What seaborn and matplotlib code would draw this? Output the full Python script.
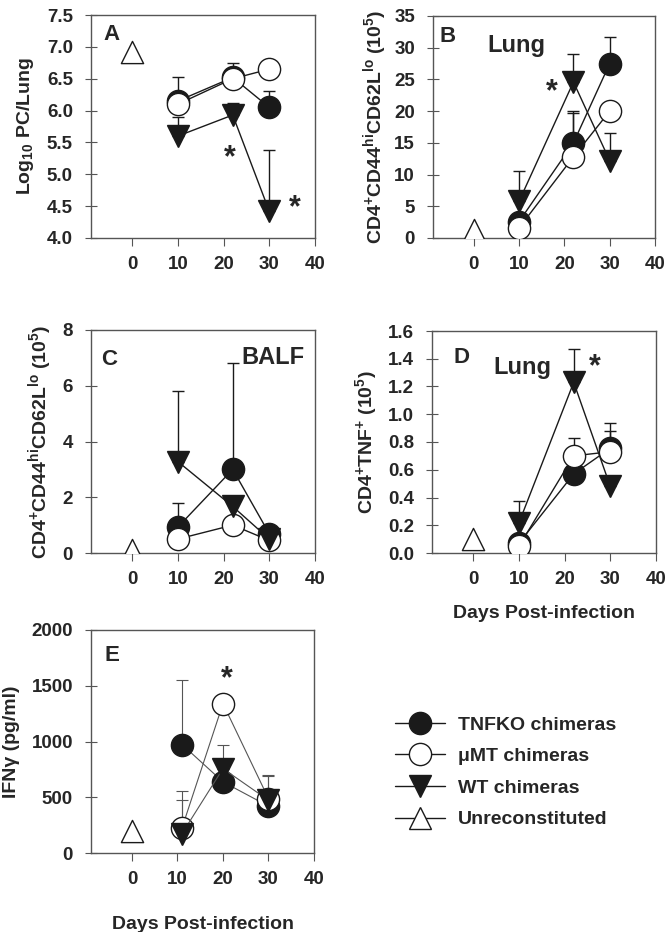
import numpy as np
import seaborn as sns
import matplotlib.pyplot as plt
from matplotlib.lines import Line2D

# days post-infection
days = [10, 22, 30]
days_e = [11, 20, 30]
day0 = 0

# A - Log10 PC/Lung
a_tnfko = [6.15, 6.52, 6.05]
a_tnfko_err = [0.37, 0.23, 0.25]
a_mumt = [6.10, 6.50, 6.65]
a_mumt_err = [0, 0, 0]
a_wt = [5.60, 5.93, 4.42]
a_wt_err = [0.30, 0.19, 0.96]
a_unrec = 6.92

# B - lung CD4+CD44hiCD62Llo
b_tnfko = [2.6, 15.0, 27.5]
b_tnfko_err = [0, 5.0, 4.2]
b_mumt = [1.6, 12.8, 20.0]
b_mumt_err = [0, 6.9, 0]
b_wt = [5.8, 24.6, 12.2]
b_wt_err = [4.8, 4.4, 4.3]
b_unrec = 1.2

# C - BALF CD4+CD44hiCD62Llo
c_tnfko = [0.93, 3.0, 0.69]
c_tnfko_err = [0.88, 3.8, 0]
c_mumt = [0.5, 1.0, 0.45]
c_mumt_err = [0, 0, 0]
c_wt = [3.28, 1.67, 0.5]
c_wt_err = [2.52, 0, 0]
c_unrec = 0.1

# D - lung CD4+TNF+
d_tnfko = [0.07, 0.57, 0.755]
d_tnfko_err = [0, 0, 0.185]
d_mumt = [0.048, 0.70, 0.73]
d_mumt_err = [0, 0.13, 0.15]
d_wt = [0.216, 1.23, 0.48]
d_wt_err = [0.16, 0.24, 0.05]
d_unrec = 0.1

# E - IFNg
e_tnfko = [973, 638, 420]
e_tnfko_err = [578, 0, 0]
e_mumt = [225, 1340, 488]
e_mumt_err = [332, 0, 210]
e_wt = [174, 757, 473]
e_wt_err = [305, 215, 217]
e_unrec = 195

labels = ["TNFKO chimeras", "\u03bcMT chimeras", "WT chimeras", "Unreconstituted"]

sns.set_style("ticks")
plt.rcParams['font.family'] = ['Liberation Sans', 'DejaVu Sans']
plt.rcParams['font.weight'] = 'bold'
plt.rcParams['mathtext.fontset'] = 'custom'
plt.rcParams['mathtext.rm'] = 'Liberation Sans:bold'
plt.rcParams['mathtext.bf'] = 'Liberation Sans:bold'
plt.rcParams['mathtext.default'] = 'bf'

W, H = 666, 932
fig = plt.figure(figsize=(W / 100, H / 100), dpi=100)


def box(l, t, r, b):
    return [l / W, 1 - b / H, (r - l) / W, (b - t) / H]


ink = "#1a1a1a"
ms = 16
tick_fs = 13.5
lab_fs = 14


def draw(ax, x, tn, tn_e, mu, mu_e, wt, wt_e, unrec, lw=1.0, lc=ink):
    for y, e, fc, mk in [(tn, tn_e, ink, "o"), (mu, mu_e, "white", "o"), (wt, wt_e, ink, "v")]:
        xs = [xi for xi, ei in zip(x, e) if ei > 0]
        ys = [yi for yi, ei in zip(y, e) if ei > 0]
        es = [ei for ei in e if ei > 0]
        if xs:
            ax.errorbar(xs, ys, yerr=[np.zeros(len(es)), es], fmt="none",
                        ecolor=lc, elinewidth=lw, capsize=4.5, capthick=lw, zorder=2)
        sns.lineplot(x=x, y=y, ax=ax, color=lc, linewidth=lw, marker=mk,
                     markersize=ms, markerfacecolor=fc, markeredgecolor=ink,
                     markeredgewidth=1.0, zorder=3)
    sns.scatterplot(x=[day0], y=[unrec], ax=ax, marker="^", s=ms ** 2,
                    facecolor="white", edgecolor=ink, linewidth=1.0, zorder=3)
    ax.set_xlim(-9, 40)
    ax.set_xticks([0, 10, 20, 30, 40])
    for s in ax.spines.values():
        s.set_color("#555555")
        s.set_linewidth(1.0)
    ax.tick_params(axis="x", length=6, pad=7, labelsize=tick_fs, color="#555555")
    ax.tick_params(axis="y", direction="inout", length=8, pad=9, labelsize=tick_fs,
                   color="#555555")
    ax.set_xlabel("")


star = dict(fontsize=22, fontweight="bold", ha="center", va="center")
tag = dict(fontsize=16, fontweight="bold", ha="center", va="center")
site = dict(fontsize=17, fontweight="bold", ha="center", va="center")
cd44 = "CD4$^{+}$CD44$^{hi}$CD62L$^{lo}$ (10$^{5}$)"

axA = fig.add_axes(box(91, 15, 315, 238))
draw(axA, days, a_tnfko, a_tnfko_err, a_mumt, a_mumt_err, a_wt, a_wt_err, a_unrec)
axA.set_ylim(4.0, 7.5)
axA.set_yticks(np.arange(4.0, 7.51, 0.5))
axA.yaxis.set_major_formatter(plt.FormatStrFormatter("%.1f"))
axA.set_ylabel("Log$_{10}$ PC/Lung", fontsize=lab_fs, fontweight="bold", labelpad=8)
axA.text(-4.6, 7.19, "A", **tag)
axA.text(21.3, 5.25, "*", **star)
axA.text(35.6, 4.47, "*", **star)

axB = fig.add_axes(box(433, 16, 655, 238))
draw(axB, days, b_tnfko, b_tnfko_err, b_mumt, b_mumt_err, b_wt, b_wt_err, b_unrec)
axB.set_ylim(0, 35)
axB.set_yticks(range(0, 36, 5))
axB.set_ylabel(cd44, fontsize=lab_fs, fontweight="bold", labelpad=4)
axB.text(-5.7, 31.7, "B", **tag)
axB.text(9.3, 30.3, "Lung", **site)
axB.text(17.2, 23.0, "*", **star)

axC = fig.add_axes(box(91, 330, 315, 553))
draw(axC, days, c_tnfko, c_tnfko_err, c_mumt, c_mumt_err, c_wt, c_wt_err, c_unrec)
axC.set_ylim(0, 8)
axC.set_yticks(range(0, 9, 2))
axC.set_ylabel(cd44, fontsize=lab_fs, fontweight="bold", labelpad=6)
axC.text(-5, 6.93, "C", **tag)
axC.text(30.8, 7.0, "BALF", **site)

axD = fig.add_axes(box(432, 331, 656, 553))
draw(axD, days, d_tnfko, d_tnfko_err, d_mumt, d_mumt_err, d_wt, d_wt_err, d_unrec)
axD.set_ylim(0, 1.6)
axD.set_yticks(np.arange(0, 1.61, 0.2))
axD.yaxis.set_major_formatter(plt.FormatStrFormatter("%.1f"))
axD.set_ylabel("CD4$^{+}$TNF$^{+}$ (10$^{5}$)", fontsize=lab_fs, fontweight="bold", labelpad=6)
axD.set_xlabel("Days Post-infection", fontsize=lab_fs, fontweight="bold", labelpad=12)
axD.text(-2.6, 1.41, "D", **tag)
axD.text(10.8, 1.34, "Lung", **site)
axD.text(26.7, 1.34, "*", **star)

axE = fig.add_axes(box(91, 630, 314, 853))
draw(axE, days_e, e_tnfko, e_tnfko_err, e_mumt, e_mumt_err, e_wt, e_wt_err, e_unrec,
     lw=0.8, lc="#555555")
axE.set_ylim(0, 2000)
axE.set_yticks(range(0, 2001, 500))
axE.set_ylabel("IFN\u03b3 (pg/ml)", fontsize=lab_fs, fontweight="bold", labelpad=8)
axE.set_xlabel("Days Post-infection", fontsize=lab_fs, fontweight="bold", labelpad=20)
axE.text(-4.4, 1775, "E", **tag)
axE.text(20.9, 1560, "*", **star)

handles = [
    Line2D([], [], color=ink, lw=1, marker="o", ms=ms, mfc=ink, mec=ink),
    Line2D([], [], color=ink, lw=1, marker="o", ms=ms, mfc="white", mec=ink),
    Line2D([], [], color=ink, lw=1, marker="v", ms=ms, mfc=ink, mec=ink),
    Line2D([], [], color=ink, lw=1, marker="^", ms=ms, mfc="white", mec=ink),
]
fig.legend(handles, labels, loc="upper left", bbox_to_anchor=(395 / W, 1 - 716 / H),
           frameon=False, handlelength=2.57, handletextpad=0.67,
           labelspacing=0.72, borderpad=0, borderaxespad=0,
           prop={"weight": "bold", "size": 14})

fig.savefig("out.png", dpi=100)
